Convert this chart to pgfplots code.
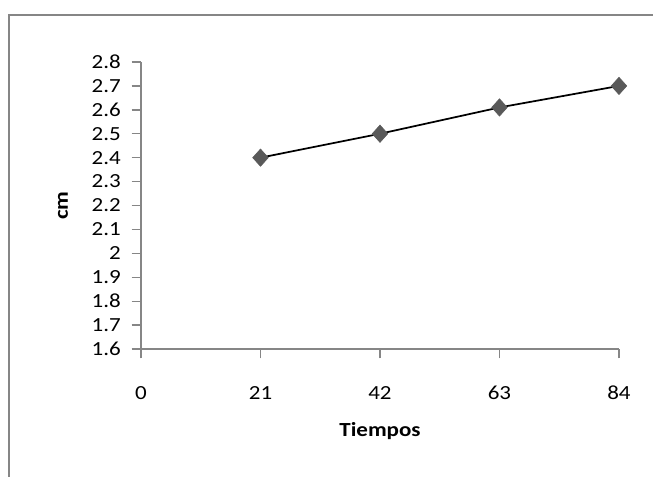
\documentclass[border=0pt]{standalone}
\usepackage{pgfplots}
\pgfplotsset{compat=1.18}
\usepackage{fontspec}
\setmainfont{Carlito}[FakeStretch=1.15]
\definecolor{axgray}{HTML}{868686}
\definecolor{mkgray}{HTML}{595959}
\begin{document}
\fontsize{15}{17}\selectfont
\begin{tikzpicture}
\useasboundingbox (0,0) rectangle (489.75pt,357pt);
\fill[white] (0,0) rectangle (489.75pt,357pt);
\draw[axgray, line width=1pt] (6.75pt,-20pt) -- (6.75pt,345.75pt) -- (520pt,345.75pt);
\begin{axis}[
  at={(105.75pt,95.25pt)}, anchor=south west,
  scale only axis, width=358.5pt, height=215.25pt,
  xmin=0, xmax=84, ymin=1.6, ymax=2.8,
  axis lines*=left,
  axis line style={axgray, line width=1pt, -},
  xtick={0,21,42,63,84},
  ytick={1.6,1.7,1.8,1.9,2,2.1,2.2,2.3,2.4,2.5,2.6,2.7,2.8},
  yticklabels={1.6,1.7,1.8,1.9,2,2.1,2.2,2.3,2.4,2.5,2.6,2.7,2.8},
  tick align=outside,
  major tick length=7pt,
  tick style={axgray, line width=1pt},
  /pgf/number format/assume math mode=true,
  ticklabel style={font=\fontsize{15}{17}\selectfont},
  xticklabel style={anchor=base, inner sep=0pt, yshift=-30.5pt},
  yticklabel style={anchor=east, inner sep=0pt, xshift=-8pt},
  xlabel={\textbf{Tiempos}},
  ylabel={\textbf{cm}},
  label style={font=\fontsize{15}{17}\selectfont},
  xlabel style={at={(axis description cs:0.5,-0.3066)}, anchor=base, inner sep=0pt},
  ylabel style={at={(axis description cs:-0.1632,0.5)}, anchor=center, inner sep=0pt},
  clip=false,
]
\addplot[only marks, mark=diamond*, mark size=6.5pt, mark options={fill=mkgray, draw=mkgray, xscale=1.2}]
  coordinates {(21,2.40) (42,2.50) (63,2.61) (84,2.70)};
\addplot[black, line width=1.3pt, mark=none]
  coordinates {(21,2.40) (42,2.50) (63,2.61) (84,2.70)};
\end{axis}
\end{tikzpicture}
\end{document}
